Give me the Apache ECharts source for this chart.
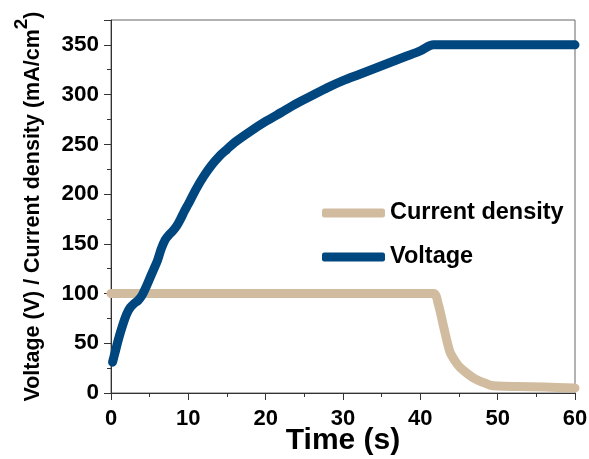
<!DOCTYPE html>
<html>
<head>
<meta charset="utf-8">
<script src="https://cdn.jsdelivr.net/npm/echarts@6/dist/echarts.min.js"></script>
<style>html,body{margin:0;padding:0;background:#fff}#c{width:589px;height:459px}</style>
</head>
<body>
<div id="c"></div>
<script>
const seriesNames = ['Current density', 'Voltage'];
const voltage = [[0.2,31],[0.5,40],[1.0,55],[1.5,68],[2.0,79],[2.5,86],[3.0,90],[3.5,93],[4.0,98],[4.5,106],[5.0,115],[5.5,124],[6.0,133],[6.5,145],[7.0,154],[7.5,159],[8.0,163],[8.5,168],[9.0,175],[9.5,183],[10.0,190],[11.0,205],[12.0,218],[13.0,229],[14.0,238],[15.0,245],[16.0,252],[18.0,263],[20.0,273],[22.0,282],[24.0,291],[26.0,299],[28.0,307],[30.0,314],[32.0,320],[34.0,326],[36.0,332],[38.0,338],[40.0,344],[41.7,350],[50,350],[60,350]];
const currentDensity = [[0,100],[41.7,100],[42.3,90],[43,67],[43.8,42],[44.5,32],[45.1,26],[46,20],[46.9,15],[48,11],[49,8],[50,7],[52.5,6.5],[56,6],[60,5]];
const xTicks = [0, 10, 20, 30, 40, 50, 60];
const yTicks = [0, 50, 100, 150, 200, 250, 300, 350];

const font = "'Liberation Sans', Arial, sans-serif";
const axisColor = '#333';
const chart = echarts.init(document.getElementById('c'));
chart.setOption({
  animation: false,
  backgroundColor: '#fff',
  grid: {left: 111, right: 14, top: 20, bottom: 66, show: true, borderColor: '#666', borderWidth: 1, containLabel: false, outerBoundsMode: 'none'},
  legend: {
    data: seriesNames,
    orient: 'vertical',
    left: 317, top: 196,
    itemWidth: 63, itemHeight: 9, itemGap: 20,
    icon: 'roundRect',
    textStyle: {fontFamily: font, fontWeight: 'bold', fontSize: 23.5, color: '#000'}
  },
  xAxis: {
    type: 'value', min: xTicks[0], max: xTicks[xTicks.length-1], interval: 10,
    name: 'Time (s)', nameLocation: 'middle', nameGap: 33, nameMoveOverlap: false,
    nameTextStyle: {fontFamily: font, fontWeight: 'bold', fontSize: 30, color: '#000'},
    axisLine: {lineStyle: {color: axisColor, width: 1}},
    axisTick: {length: 7, lineStyle: {color: axisColor}},
    minorTick: {show: true, splitNumber: 2, length: 4, lineStyle: {color: axisColor}},
    splitLine: {show: false},
    axisLabel: {fontFamily: font, fontWeight: 'bold', fontSize: 22, color: '#000', margin: 15}
  },
  yAxis: [{
    type: 'value', min: yTicks[0], max: 375, interval: 50, position: 'left', offset: 0,
    name: '{m|Voltage (V) / Current density (mA/cm}{sup|2}{m|)}', nameLocation: 'middle', nameGap: 56, nameMoveOverlap: false,
    nameTextStyle: {fontFamily: font, fontWeight: 'bold', fontSize: 21.5, color: '#000',
      rich: {
        m: {fontFamily: font, fontWeight: 'bold', fontSize: 21.5, color: '#000'},
        sup: {fontFamily: font, fontWeight: 'bold', fontSize: 19, color: '#000', verticalAlign: 'bottom', padding: [0, 0, 24, 0]}
      }},
    axisLine: {lineStyle: {color: axisColor, width: 1}},
    axisTick: {length: 7, lineStyle: {color: axisColor}},
    splitLine: {show: false},
    axisLabel: {fontFamily: font, fontWeight: 'bold', fontSize: 22.5, color: '#000', margin: 12,
      formatter: v => (yTicks.indexOf(v) >= 0 ? String(v) : '')}
  }, {
    type: 'value', min: 0, max: 375, interval: 25, position: 'left', offset: 0,
    axisLine: {show: false},
    axisTick: {length: 4, lineStyle: {color: axisColor}},
    axisLabel: {show: false},
    splitLine: {show: false}
  }],
  series: [{
    name: seriesNames[0], type: 'line', data: currentDensity, showSymbol: false, smooth: 0.3,
    yAxisIndex: 0,
    lineStyle: {color: '#d2bc9f', width: 9, cap: 'round', join: 'round'},
    itemStyle: {color: '#d2bc9f'}
  }, {
    name: seriesNames[1], type: 'line', data: voltage, showSymbol: false, smooth: 0.3,
    yAxisIndex: 0,
    lineStyle: {color: '#00467f', width: 9, cap: 'round', join: 'round'},
    itemStyle: {color: '#00467f'}
  }]
});
</script>
</body>
</html>
